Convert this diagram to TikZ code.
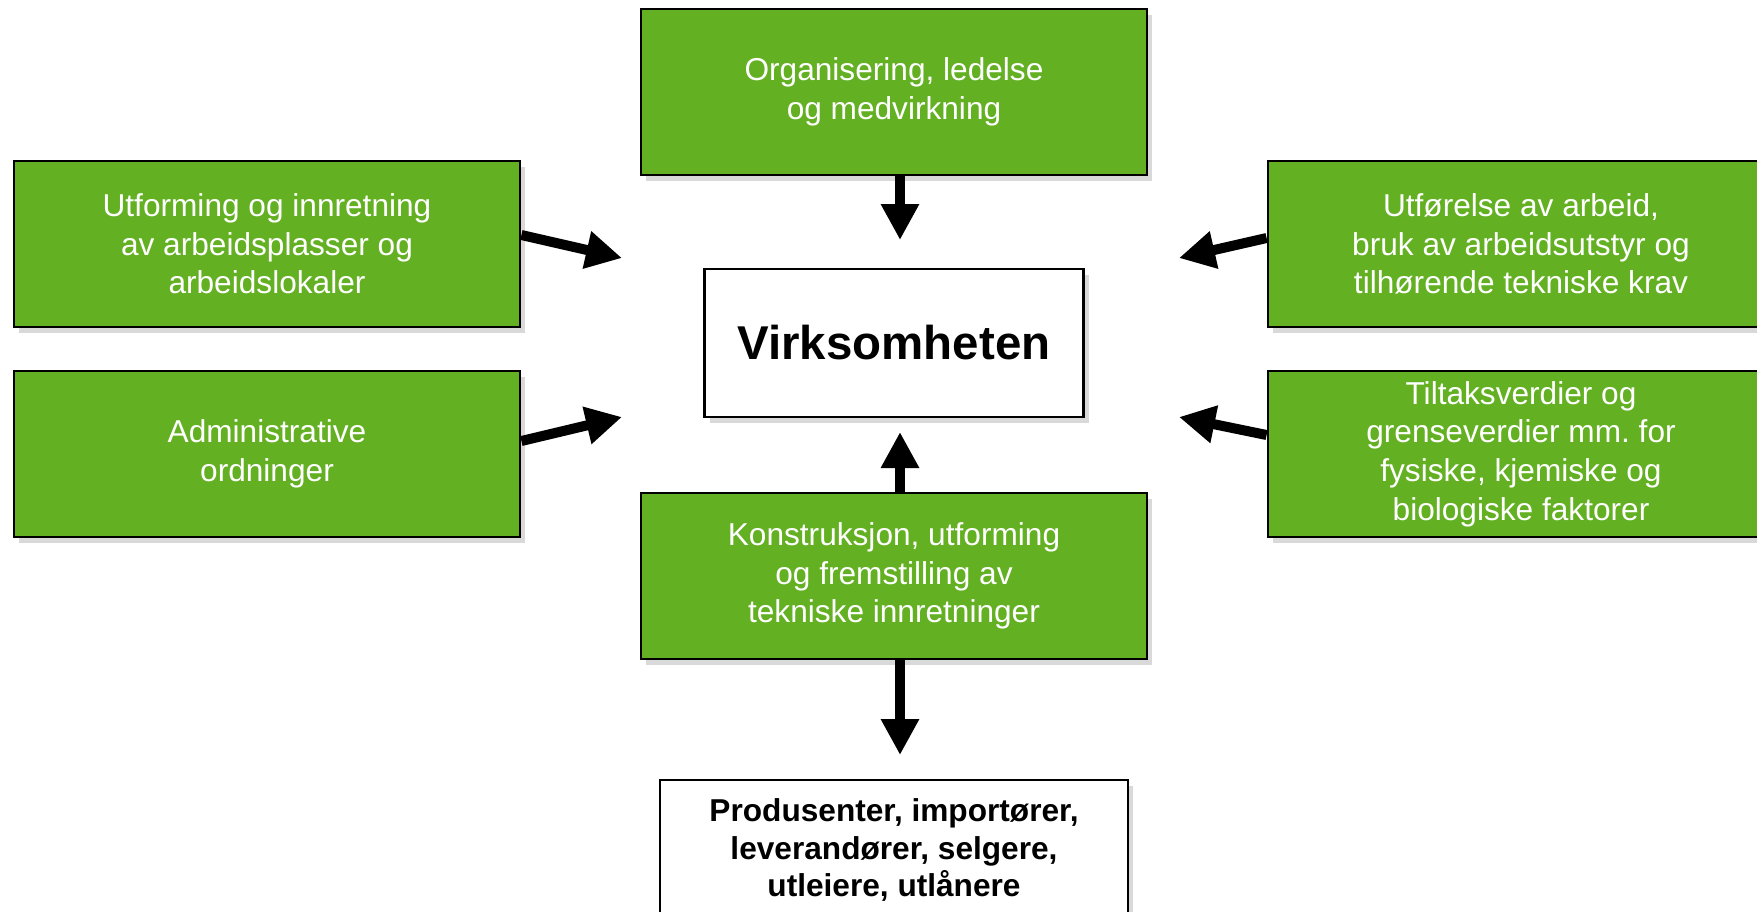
\documentclass[tikz,border=0pt]{standalone}
\usepackage{fontspec}
\setmainfont{Liberation Sans}
\usetikzlibrary{arrows.meta,shadows}
\definecolor{lawngreen}{RGB}{99,176,34}
\def\boxwidth{5.06cm}
\def\boxheight{1.66cm}

\begin{document}
\begin{tikzpicture}
            \tikzstyle{green box}=[draw=black, line width=0.8pt, fill=lawngreen, text=white,
                minimum width=\boxwidth, minimum height=\boxheight, inner sep=0pt, align=center,
                font=\fontsize{9}{11}\selectfont,
                drop shadow={shadow xshift=0.05cm, shadow yshift=-0.06cm, opacity=0.3}]
            \tikzstyle{white box}=[green box, fill=white, text=black, font=\fontsize{9}{10.8}\selectfont\bfseries]
            \tikzstyle{big arrow}=[line width=0.1cm, -{Triangle[length=0.36cm,width=0.36cm]}]

            \useasboundingbox (0,0) rectangle (17.57,-9.11);

            % The enterprise in the middle
            \node[white box, minimum width=3.79cm, minimum height=1.48cm,
                font=\fontsize{13.5}{16}\selectfont\bfseries] (virk) at (8.94,-3.43) {Virksomheten};

            % Draw the green boxes around it
            \node[green box] (org) at (8.94,-0.92) {Organisering, ledelse\\og medvirkning};
            \node[green box] (utf) at (2.67,-2.44) {Utforming og innretning\\av arbeidsplasser og\\arbeidslokaler};
            \node[green box] (adm) at (2.67,-4.54) {Administrative\\ordninger};
            \node[green box] (arb) at (15.21,-2.44) {Utførelse av arbeid,\\bruk av arbeidsutstyr og\\tilhørende tekniske krav};
            \node[green box] (tilt) at (15.21,-4.54) {Tiltaksverdier og\\grenseverdier mm.\ for\\fysiske, kjemiske og\\biologiske faktorer};
            \node[green box] (kons) at (8.94,-5.76) {Konstruksjon, utforming\\og fremstilling av\\tekniske innretninger};

            \node[white box, minimum width=4.68cm, minimum height=1.4cm] (prod) at (8.94,-8.50)
                {Produsenter, importører,\\leverandører, selgere,\\utleiere, utlånere};

            % Free ends of the arrows
            \coordinate (org tip) at (9.00,-2.40);
            \coordinate (utf tip) at (6.22,-2.58);
            \coordinate (adm tip) at (6.22,-4.17);
            \coordinate (arb tip) at (11.79,-2.58);
            \coordinate (tilt tip) at (11.79,-4.17);
            \coordinate (kons tip) at (9.00,-4.32);
            \coordinate (prod tip) at (9.00,-7.55);

            % Connect every box with the enterprise
            \draw[big arrow] (org tip |- org.south) -- (org tip);
            \draw[big arrow] ([yshift=0.09cm]utf.east) -- (utf tip);
            \draw[big arrow] ([yshift=0.13cm]adm.east) -- (adm tip);
            \draw[big arrow] ([yshift=0.06cm]arb.west) -- (arb tip);
            \draw[big arrow] ([yshift=0.19cm]tilt.west) -- (tilt tip);
            \draw[big arrow] (kons tip |- kons.north) -- (kons tip);
            \draw[big arrow] (prod tip |- kons.south) -- (prod tip);
        \end{tikzpicture}
\end{document}
